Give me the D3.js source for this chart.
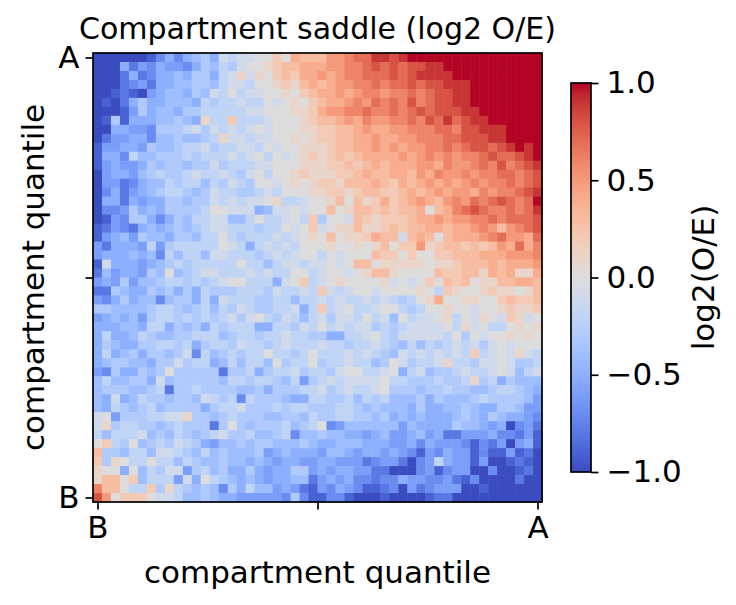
<!DOCTYPE html>
<html>
<head>
<meta charset="utf-8">
<script src="https://cdn.jsdelivr.net/npm/d3@7"></script>
<style>
    body { margin: 0; background: #fff; }
    text { font-family: "DejaVu Sans", sans-serif; }
</style>
</head>
<body>
<svg id="chart" width="736" height="605"></svg>
<script>
// saddle cells. one string per row, top row = A, left column = B.
// each letter is a level: a = -1.0, k = 0.0, u = +1.0 (steps of 0.1)
const levelCodes = "abcdefghijklmnopqrstu"
const levelValues = [-1.0, -0.9, -0.8, -0.7, -0.6, -0.5, -0.4, -0.3, -0.2, -0.1, 0.0,
    0.1, 0.2, 0.3, 0.4, 0.5, 0.6, 0.7, 0.8, 0.9, 1.0]

const saddleRows = [
    "aaaaaab" + "dfdfghfjijjkkmkonnnppqrrttst" + "uuuuuuuuuuuuuuu",
    "aaa" + "fcedfeedfhgihjkklmnnoooppqqrsrsrsstt" + "uuuuuuuuuuu",
    "aaacfcdffgfhhfijl" + "jlkmnmoopopqqrr" + "rsrstttt" + "uuuuuuuuuu",
    "aaacdecffgghhgij" + "jikklmlnonoppqqr" + "qrrsrssttt" + "uuuuuuuu",
    "aabcbaefggfhgjik" + "ijjkklkmnoopopqq" + "pqqrqrsstt" + "uuuuuuuu",
    "abacfhffgggfihii" + "jiikjklkmnoopqpr" + "qrqsqrsstt" + "uuuuuuuu",
    "aaabehfggfhhiiii" + "ijjkkkllmoppqqrq" + "qrqrsrssstt" + "uuuuuuu",
    "abhbfffgghgfliim" + "iiijkkklmnnopoqp" + "pqqrqsrtrstt" + "uuuuuu",
    "aaffeedhhhijhjij" + "ijkjkkkllmmnnopo" + "oppqqqrrqssttt" + "uuuu",
    "aceeffdgghgghilj" + "jijjkklklmmnnoop" + "ooppqqqrrssstt" + "uuuu",
    "beeffehgghiijhii" + "jjikjkklllmnnoop" + "opoppqqrqrssrstutu",
    "bffdigghhhihiiij" + "ijkikjklmlmnmnoo" + "oopopqpqpqqrsrrstu",
    "befeefhghhghhjhi" + "iijjkkklllmmnmno" + "noooppoqppqrqsqrst",
    "aeffeghihhijiiji" + "hjkikklmlllmmnon" + "noonpoqppqpqqrrqrs",
    "aeecdfggihiigihj" + "ihkkjklklmmlnnno" + "nmonopopopqpqqrqrs",
    "adfcefghiihghjii" + "hhijikkkllmmlmnn" + "mmnonopoppoqpqqrst",
    "affcfeffhhghhjij" + "ijjkliijkklnknlmo" + "mnoponpqprqrsrqru",
    "addehfgfhhhhikkj" + "jjfgjjkjkknklnnmn" + "mnnoknoqrsrqqrqrt",
    "abedhhfdfhgiijjg" + "gikiijkimhkkjnmlm" + "mmnoopoppqqrqrrrs",
    "bcedcfgfghghijji" + "iihiikjkmjkllnllm" + "nmnnoonoopqpnpqrs",
    "befgehggfhhgiiki" + "hiiijijklknkllmon" + "njnonknooopqrppor",
    "ecfffeiehiiiiikj" + "ifijijikkklkklkln" + "kmmplmnnmnmnporoq",
    "efffgfgdigiigjji" + "iihijijkkikjkkknm" + "mkmkkmmnnnooopppq",
    "bjfffefghihiiiii" + "kiigijjijjkjknnkl" + "llllkllmnnnonooop",
    "cgeffehgkghijjii" + "ijijiikkijkkjklnn" + "lkkkknmmnnlonollo",
    "efehegghiihihijk" + "kiiifjkmijklkkkkl" + "jkjkmknmnkllnnoon",
    "cchgffhghfhfihhh" + "iiihjiijimjijkkjk" + "kkklkimlkklmllkln",
    "edfhfggdghhfifji" + "iihhiigiijijiijij" + "ihiklokkllkkmnmmn",
    "hhgggghiihghigih" + "jihhiijfimijkiijk" + "kihikklkkjkklmllm",
    "efgfgehiihihihij" + "hjkihjigijhjjikij" + "gkijjklikjlkjmljk",
    "fffggfiifhghfihi" + "iiffiihjikijijjhi" + "hijjjjkiljkiiklkl",
    "fiffgihgghhiiigh" + "iihiijiihhffiijki" + "hjjjjjikhkjkklklk",
    "fhgffhhiihifhiih" + "jiihijiiijiihiiji" + "hgigihijijhjkjkkk",
    "fifghfhhghjdighi" + "hiikiihikiiijijih" + "gjijijijimijkjlji",
    "fghhggfhhjhiifgi" + "giigkhiikhiijiigh" + "kjhiijliihjjkjhhi",
    "edhffhghkhhhhhch" + "hifhiijhiihjkkiij" + "kfijghhijiijkjgij",
    "gigghhfjghhhhhgi" + "ihiihgiehijijjjjk" + "iihhhihhilhifhggg",
    "ghhhgghichhihhhh" + "gghfhhhiijhijiijk" + "hhhghhihhgghiihgf",
    "gfjfgihhghhgjihi" + "dihhhgffiihhigihi" + "ggghfhggghihhhhge",
    "gfihghighhhhfhii" + "jhhhihiihhhiihghg" + "ggfhffgghgffhhgee",
    "jkehhhiijjlhhghi" + "hhhgghhgihhiihhgh" + "fgfgfffghgfhgffed",
    "jlhiihhghihhhchk" + "hghhhighikdeggggg" + "gegffffhggfefadec",
    "igiiijghgihghijh" + "higghidgghggffefg" + "eefgefcceeefddceb",
    "kmihkghihjihfegg" + "hghhggghgffgggfff" + "eefdfeeedbdceaefb",
    "nhhgiigjjihgighg" + "gghefgfffeggfeffe" + "fedbedfeebdbbebca",
    "mhlkiikiigihgghg" + "gfgfeffeeffeeecde" + "ecadeifeebeaabcba",
    "lkkfkgihjjehighf" + "fhfeffhhefeffeecc" + "aaadebdeeaadaabca",
    "lnnkmgiiiejfkihg" + "fgfeffggcefefddcd" + "dfeeddecbdaaaacaa",
    "qnnkiimhlihghgdh" + "figgefecbedfedbbc" + "daecdeeeaabaaaaaa",
    "spkmmmkjjigghgff" + "eeeeedhdbbddbaaab" + "aaaabccaaaaaaaaaa"
]

const xTickLabels = ["B", "", "A"]
const yTickLabels = ["A", "", "B"]
const cbarTicks = [-1.0, -0.5, 0.0, 0.5, 1.0]
const titleText = "Compartment saddle (log2 O/E)"
const axisLabel = "compartment quantile"
const cbarLabel = "log2(O/E)"

// matplotlib coolwarm (Moreland) stops, -1 .. +1
const coolwarm = ["#3b4cc0", "#445acc", "#4d68d7", "#5775e1", "#6282ea", "#6c8ef1", "#779af7", "#82a5fb",
    "#8db0fe", "#98b9ff", "#a3c2ff", "#aec9fd", "#b8d0f9", "#c2d5f4", "#ccd9ee", "#d5dbe6",
    "#dddddd", "#e5d8d1", "#ecd3c5", "#f1ccb8", "#f5c4ac", "#f7bb9f", "#f7b193", "#f7a686",
    "#f49a7b", "#f18d6f", "#ec7f63", "#e57058", "#de604d", "#d55042", "#cb3e38", "#c0282f",
    "#b40426"]

const bad = saddleRows.map((r, i) => [i, r.length]).filter(d => d[1] !== saddleRows.length)
if (bad.length) throw new Error("bad rows: " + JSON.stringify(bad))

const n = saddleRows.length
const cells = []
saddleRows.forEach((row, r) => {
    row.split("").forEach((ch, c) => {
        cells.push({row: r, col: c, v: levelValues[levelCodes.indexOf(ch)]})
    })
})

const width = 736, height = 605
const plot = {left: 93, top: 53, size: 449}
const cbar = {left: 571, top: 83, width: 20, height: 389}
const fontPx = 31
const titlePx = 30
const lineW = 1.7
const tickLen = 7.5

const svg = d3.select("#chart")

const colour = d3.scaleLinear()
    .domain(coolwarm.map((c, i) => -1 + 2 * i / (coolwarm.length - 1)))
    .range(coolwarm)
    .interpolate(d3.interpolateRgb)
    .clamp(true)

const x = d3.scaleBand().domain(d3.range(n)).range([plot.left, plot.left + plot.size])
const y = d3.scaleBand().domain(d3.range(n)).range([plot.top, plot.top + plot.size])
const bw = x.bandwidth()

svg.append("g")
    .selectAll("rect")
    .data(cells)
    .join("rect")
    .attr("x", d => x(d.col))
    .attr("y", d => y(d.row))
    .attr("width", bw + 0.5)
    .attr("height", bw + 0.5)
    .attr("fill", d => colour(d.v))

// frame
svg.append("rect")
    .attr("x", plot.left)
    .attr("y", plot.top)
    .attr("width", plot.size)
    .attr("height", plot.size)
    .attr("fill", "none")
    .attr("stroke", "#000")
    .attr("stroke-width", lineW)

// ticks sit on first / middle / last cell centres
const xPos = d3.scaleLinear().domain([0, n - 1]).range([x(0) + bw / 2, x(n - 1) + bw / 2])
const yPos = d3.scaleLinear().domain([0, n - 1]).range([y(0) + bw / 2, y(n - 1) + bw / 2])
const tickIdx = [0, (n - 1) / 2, n - 1]

function styleAxis(g) {
    g.select(".domain").remove()
    g.selectAll(".tick line").attr("stroke", "#000").attr("stroke-width", lineW)
    g.selectAll(".tick text").attr("fill", "#000").style("font-size", fontPx + "px")
        .style("font-family", "DejaVu Sans")
}

svg.append("g")
    .attr("transform", `translate(0,${plot.top + plot.size})`)
    .call(d3.axisBottom(xPos).tickValues(tickIdx).tickSize(tickLen).tickPadding(6)
        .tickFormat((d, i) => xTickLabels[i]))
    .call(styleAxis)

svg.append("g")
    .attr("transform", `translate(${plot.left},0)`)
    .call(d3.axisLeft(yPos).tickValues(tickIdx).tickSize(tickLen).tickPadding(6)
        .tickFormat((d, i) => yTickLabels[i]))
    .call(styleAxis)

// titles
svg.append("text")
    .attr("x", plot.left + plot.size / 2)
    .attr("y", 39)
    .attr("text-anchor", "middle")
    .style("font-size", titlePx + "px")
    .text(titleText)

svg.append("text")
    .attr("x", plot.left + plot.size / 2)
    .attr("y", 583)
    .attr("text-anchor", "middle")
    .style("font-size", fontPx + "px")
    .text(axisLabel)

svg.append("text")
    .attr("transform", `translate(44,${plot.top + plot.size / 2}) rotate(-90)`)
    .attr("text-anchor", "middle")
    .style("font-size", fontPx + "px")
    .text(axisLabel)

// colorbar
const defs = svg.append("defs")
const grad = defs.append("linearGradient")
    .attr("id", "cw")
    .attr("x1", 0).attr("y1", 1).attr("x2", 0).attr("y2", 0)
grad.selectAll("stop")
    .data(coolwarm)
    .join("stop")
    .attr("offset", (d, i) => i / (coolwarm.length - 1))
    .attr("stop-color", d => d)

svg.append("rect")
    .attr("x", cbar.left)
    .attr("y", cbar.top)
    .attr("width", cbar.width)
    .attr("height", cbar.height)
    .attr("fill", "url(#cw)")
    .attr("stroke", "#000")
    .attr("stroke-width", lineW)

const cScale = d3.scaleLinear().domain([-1, 1]).range([cbar.top + cbar.height, cbar.top])
svg.append("g")
    .attr("transform", `translate(${cbar.left + cbar.width},0)`)
    .call(d3.axisRight(cScale).tickValues(cbarTicks).tickSize(tickLen).tickPadding(8)
        .tickFormat(d3.format(".1f")))
    .call(styleAxis)

svg.append("text")
    .attr("transform", `translate(714,${cbar.top + cbar.height / 2}) rotate(-90)`)
    .attr("text-anchor", "middle")
    .style("font-size", fontPx + "px")
    .text(cbarLabel)
</script>
</body>
</html>
